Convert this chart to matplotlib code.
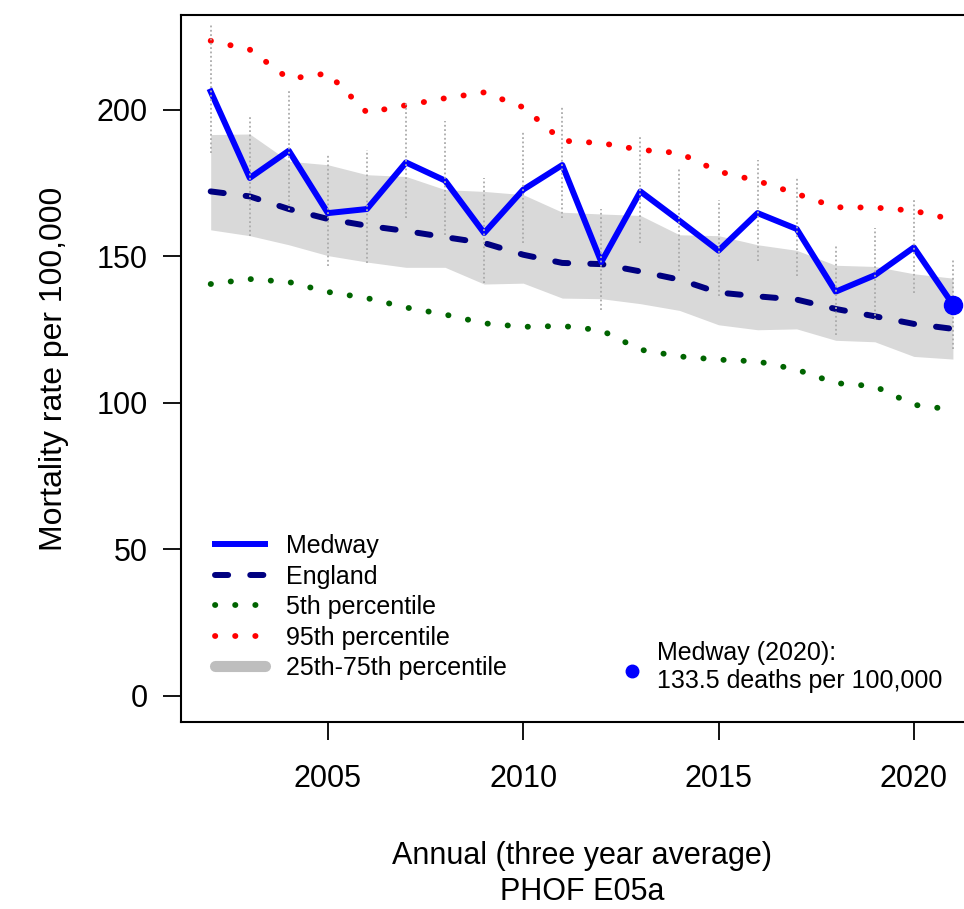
import matplotlib
matplotlib.use("Agg")
from matplotlib import pyplot as plt
from matplotlib.lines import Line2D

plt.rcParams['font.family'] = ['Liberation Sans', 'DejaVu Sans']

# data
years = list(range(2002, 2022))
medway = [206.2, 176.7, 186.0, 164.7, 166.1, 182.0, 175.8, 157.9, 172.7, 181.1,
          148.0, 172.1, 162.1, 151.9, 164.7, 159.3, 137.9, 143.5, 153.0, 133.5]
medway_lo = [185.2, 156.8, 165.9, 146.5, 147.7, 163.0, 157.3, 140.8, 154.5, 163.0,
             131.7, 154.5, 144.8, 136.3, 148.2, 143.1, 123.2, 128.3, 137.4, 118.3]
medway_hi = [229.0, 197.7, 206.8, 185.0, 186.3, 202.8, 196.0, 176.7, 192.6, 201.4,
             166.1, 190.9, 180.6, 169.3, 182.9, 176.7, 153.9, 159.6, 169.9, 149.4]
england = [172.1, 170.4, 166.1, 162.7, 160.4, 158.6, 156.5, 154.5, 150.5, 147.7,
           147.3, 144.8, 142.0, 137.6, 136.3, 135.2, 132.0, 129.5, 126.9, 125.2]
p5 = [140.5, 142.2, 141.2, 137.8, 135.7, 132.5, 130.1, 127.1, 125.9, 126.2,
      124.7, 118.1, 115.8, 114.7, 114.1, 111.3, 106.7, 105.6, 99.3, 97.6]
p95 = [223.5, 220.5, 210.5, 212.4, 199.0, 201.5, 203.9, 205.9, 200.8, 189.4,
       188.6, 186.3, 185.2, 178.9, 175.7, 171.3, 166.7, 166.6, 165.5, 162.5]
p25 = [159.0, 157.0, 153.9, 150.2, 148.0, 146.2, 146.2, 140.5, 140.8, 135.7,
       135.5, 133.8, 131.5, 126.6, 124.9, 125.2, 121.3, 120.8, 115.8, 114.9]
p75 = [191.5, 191.7, 182.4, 181.2, 177.8, 177.2, 172.7, 172.1, 171.0, 165.0,
       164.4, 163.9, 157.3, 157.0, 153.9, 152.0, 146.9, 146.5, 144.0, 142.5]
latest_label = "Medway (2020):\n133.5 deaths per 100,000"
yticks = [0, 50, 100, 150, 200]
xticks = [2005, 2010, 2015, 2020]

dotted = (0, (0.05, 3.4))
dashed = (0, (2.2, 3.7))

fig = plt.figure(figsize=(9.64, 9.09), dpi=100)
ax = fig.add_axes([181 / 964, 1 - 722 / 909, 801.6 / 964, 707 / 909])

ax.fill_between(years, p25, p75, color='#d9d9d9', lw=0, zorder=1)
ax.plot(years, p5, color='#006400', lw=4.2, ls=dotted,
        dash_capstyle='round', zorder=2)
ax.plot(years, p95, color='#ff0000', lw=4.2, ls=dotted,
        dash_capstyle='round', zorder=2)
ax.plot(years, england, color='#000080', lw=4.3, ls=dashed,
        dash_capstyle='round', zorder=3)
ax.plot(years, medway, color='#0000ff', lw=4.3, zorder=4)
ax.vlines(years, medway_lo, medway_hi, colors='#ababab', lw=1.3,
          linestyles=(0, (1, 1.4)), zorder=5)
ax.plot(years[-1], medway[-1], 'o', color='#0000ff', ms=13, zorder=6)

ax.set_xlim(2001.24, 2021.76)
ax.set_ylim(-8.94, 232.3)
ax.set_xticks(xticks)
ax.set_yticks(yticks)
ax.tick_params(axis='both', labelsize=22, length=13, width=1.3, direction='out')
ax.tick_params(axis='x', pad=17)
ax.tick_params(axis='y', pad=11)
for s in ax.spines.values():
    s.set_linewidth(1.5)

ax.set_ylabel("Mortality rate per 100,000", fontsize=23, labelpad=20)
ax.set_xlabel("Annual (three year average)\nPHOF E05a", fontsize=22,
              labelpad=34, linespacing=1.25)

handles = [
    Line2D([], [], color='#0000ff', lw=4.3),
    Line2D([], [], color='#000080', lw=4.3, ls=dashed, dash_capstyle='round'),
    Line2D([], [], color='#006400', lw=4.2, ls=dotted, dash_capstyle='round'),
    Line2D([], [], color='#ff0000', lw=4.2, ls=dotted, dash_capstyle='round'),
    Line2D([], [], color='#bebebe', lw=8, solid_capstyle='round'),
]
labels = ["Medway", "England", "5th percentile", "95th percentile",
          "25th-75th percentile"]
ax.legend(handles, labels, loc='lower left', bbox_to_anchor=(0.03, 0.045),
          frameon=False, fontsize=18, handlelength=2.0, handletextpad=0.85,
          labelspacing=0.26, borderaxespad=0)

ax.plot([0.5626], [0.0721], 'o', color='#0000ff', ms=9, transform=ax.transAxes,
        clip_on=False)
ax.text(0.5938, 0.0778, latest_label, transform=ax.transAxes, fontsize=18,
        va='center', ha='left', linespacing=1.2)

fig.savefig('out.png', dpi=100)
